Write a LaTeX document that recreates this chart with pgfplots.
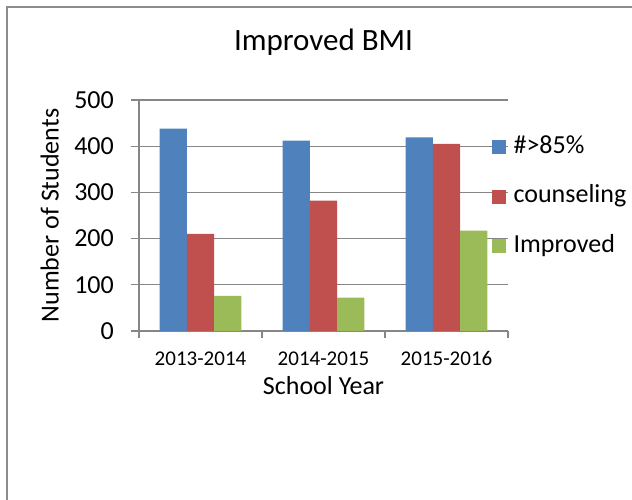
\documentclass[border=0pt]{standalone}
\usepackage{fontspec}
\setmainfont{Carlito}
\usepackage{pgfplots}
\pgfplotsset{compat=1.18}
\definecolor{axisgray}{HTML}{868686}
\definecolor{frame}{HTML}{8C8C8C}
\definecolor{cblue}{HTML}{4F81BD}
\definecolor{cred}{HTML}{C0504D}
\definecolor{cgreen}{HTML}{9BBB59}
\begin{document}
\begin{tikzpicture}
\useasboundingbox (0pt,0pt) rectangle (632pt,500pt);
\draw[frame, line width=1.5pt] (7pt,-5pt) -- (7pt,493pt) -- (640pt,493pt);
\begin{axis}[
  at={(139pt,169pt)}, anchor=south west,
  scale only axis, width=369pt, height=231pt,
  xmin=-0.5, xmax=2.5, ymin=0, ymax=500,
  enlargelimits=false,
  ybar=0pt, bar width=27.3pt,
  axis x line*=bottom, axis y line*=left,
  axis line style={-, draw=axisgray, line width=1.3pt},
  xtick={0,1,2},
  xticklabels={2013-2014,2014-2015,2015-2016},
  xtick style={draw=none},
  extra x ticks={-0.5,0.5,1.5,2.5},
  extra x tick labels={},
  extra x tick style={xtick style={draw=axisgray, line width=1.3pt}, major tick length=7pt, tick align=outside},
  ytick={0,100,200,300,400,500},
  ytick style={draw=axisgray, line width=1.3pt},
  major tick length=8pt, tick align=outside,
  ymajorgrids, grid style={draw=axisgray, line width=1.3pt},
  /pgf/number format/assume math mode=true,
  yticklabel style={font=\fontsize{26}{28}\selectfont, anchor=east, inner sep=0pt, xshift=-17pt},
  xticklabel style={font=\fontsize{21}{24}\selectfont, anchor=base, yshift=-27pt},
  title={Improved BMI},
  title style={font=\fontsize{31}{34}\selectfont, at={(axis description cs:0.5,1)}, anchor=base, yshift=43pt},
  xlabel={School Year},
  xlabel style={font=\fontsize{26}{28}\selectfont, at={(axis description cs:0.5,-0.277)}, anchor=base},
  ylabel={Number of Students},
  ylabel style={font=\fontsize{26}{28}\selectfont, at={(axis description cs:-0.218,0.5)}, anchor=base, rotate=0},
  legend style={draw=none, fill=none, inner sep=0pt, at={(axis description cs:0.955,0.848)}, anchor=north west,
    font=\fontsize{26}{28}\selectfont, row sep=25.5pt, column sep=8pt,
    nodes={text height=18pt, text depth=6pt, inner sep=0pt, anchor=west}},
  legend cell align=left,
  legend image code/.code={\fill[#1, draw=none] (0pt,-7pt) rectangle (14pt,7pt);},
]
\addplot[fill=cblue, draw=none] coordinates {(0,438) (1,412) (2,419)};
\addplot[fill=cred, draw=none] coordinates {(0,210) (1,282) (2,405)};
\addplot[fill=cgreen, draw=none] coordinates {(0,76) (1,72) (2,217)};
\legend{\#>85\%, counseling, Improved}
\end{axis}
\end{tikzpicture}
\end{document}
